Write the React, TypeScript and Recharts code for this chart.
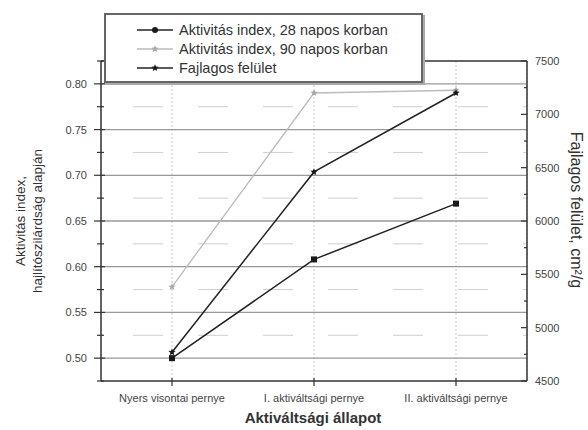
import React from 'react';
import { LineChart, Line, XAxis, YAxis, CartesianGrid, ReferenceLine } from 'recharts';

const categories = ['Nyers visontai pernye', 'I. aktiváltsági pernye', 'II. aktiváltsági pernye'];
const seriesNames = ['Aktivitás index, 28 napos korban', 'Aktivitás index, 90 napos korban', 'Fajlagos felület'];
const activity28 = [0.5, 0.608, 0.669];
const activity90 = [0.578, 0.79, 0.793];
const specificSurface = [4770, 6460, 7200];
const leftMajorTicks = [0.5, 0.55, 0.6, 0.65, 0.7, 0.75, 0.8];
const leftMinorTicks = [0.475, 0.525, 0.575, 0.625, 0.675, 0.725, 0.775, 0.825];
const rightMajorTicks = [4500, 5000, 5500, 6000, 6500, 7000, 7500];
const rightMinorTicks = [4750, 5250, 5750, 6250, 6750, 7250];
const leftTitle = ['Aktivitás index,', 'hajlítószilárdság alapján'];
const rightTitle = 'Fajlagos felület, cm²/g';
const xTitle = 'Aktiváltsági állapot';

const data = categories.map((c, i) => ({
  cat: c,
  a28: activity28[i],
  a90: activity90[i],
  surf: specificSurface[i],
}));

const FONT = '"Liberation Sans", Arial, sans-serif';
const AXIS = '#333';
const TXT = '#444';

const starPath = (cx: number, cy: number, r: number) => {
  const pts: string[] = [];
  for (let i = 0; i < 10; i++) {
    const rr = i % 2 === 0 ? r : r * 0.45;
    const a = -Math.PI / 2 + (i * Math.PI) / 5;
    pts.push(`${(cx + rr * Math.cos(a)).toFixed(2)},${(cy + rr * Math.sin(a)).toFixed(2)}`);
  }
  return 'M' + pts.join('L') + 'Z';
};

const SquareDot = (p: any) => {
  if (p.cx == null || p.cy == null) return null;
  return <rect key={p.index} x={p.cx - 3} y={p.cy - 3} width={6} height={6} fill="#1a1a1a" />;
};
const GrayStar = (p: any) => {
  if (p.cx == null || p.cy == null) return null;
  return <path key={p.index} d={starPath(p.cx, p.cy, 3.8)} fill="#aaa" />;
};
const BlackStar = (p: any) => {
  if (p.cx == null || p.cy == null) return null;
  return <path key={p.index} d={starPath(p.cx, p.cy, 3.8)} fill="#1a1a1a" />;
};

const LeftTick = (p: any) => {
  const v = p.payload.value;
  const major = leftMajorTicks.some((t) => Math.abs(t - v) < 1e-6);
  return (
    <g>
      <line x1={p.x - (major ? 7 : 4)} x2={p.x + (major ? 4 : 3)} y1={p.y} y2={p.y} stroke={AXIS} strokeWidth={1.2} />
      {major && (
        <text x={p.x - 14} y={p.y + 4} textAnchor="end" fontSize={11} fill={TXT} fontFamily={FONT}>
          {v.toFixed(2)}
        </text>
      )}
    </g>
  );
};

const RightTick = (p: any) => {
  const v = p.payload.value;
  const major = rightMajorTicks.includes(v);
  return (
    <g>
      <line x1={p.x - (major ? 6 : 3)} x2={p.x} y1={p.y} y2={p.y} stroke={AXIS} strokeWidth={1.2} />
      {major && (
        <text x={p.x + 8} y={p.y + 4} textAnchor="start" fontSize={11} fill={TXT} fontFamily={FONT}>
          {v}
        </text>
      )}
    </g>
  );
};

const BottomTick = (p: any) => (
  <g>
    <line x1={p.x} x2={p.x} y1={p.y - 3} y2={p.y + 5} stroke={AXIS} strokeWidth={1.2} />
    <text x={p.x} y={p.y + 21} textAnchor="middle" fontSize={11} fill={TXT} fontFamily={FONT}>
      {p.payload.value}
    </text>
  </g>
);

const LegendIcon = ({ kind }: { kind: number }) => (
  <svg width={36} height={12} style={{ display: 'block' }}>
    <line x1={0} x2={36} y1={6} y2={6} stroke={kind === 1 ? '#bbb' : '#222'} strokeWidth={1.3} />
    {kind === 0 && <circle cx={18} cy={6} r={3} fill="#1a1a1a" />}
    {kind === 1 && <path d={starPath(18, 6, 3.8)} fill="#aaa" />}
    {kind === 2 && <path d={starPath(18, 6, 3.8)} fill="#1a1a1a" />}
  </svg>
);

export default function App() {
  return (
    <div style={{ position: 'absolute', left: 0, top: 0, width: 588, height: 430, background: '#fff' }}>
      <LineChart width={588} height={430} data={data} margin={{ top: 61, right: 0, bottom: 0, left: 0 }}>
        <CartesianGrid horizontal={false} vertical stroke="#c8c8c8" strokeDasharray="2 2" />
        {leftMinorTicks.slice(1, -1).map((t) => (
          <ReferenceLine key={'m' + t} yAxisId="left" y={t} stroke="#cfcfcf" strokeWidth={1} strokeDasharray="0 32 30 3" />
        ))}
        {leftMajorTicks.map((t) => (
          <ReferenceLine key={'M' + t} yAxisId="left" y={t} stroke="#999" strokeWidth={1.3} />
        ))}
        <ReferenceLine yAxisId="left" y={0.825} stroke={AXIS} strokeWidth={1.5} />
        <XAxis
          dataKey="cat"
          height={49}
          padding={{ left: 71, right: 71 }}
          interval={0}
          tickSize={0}
          tickMargin={0}
          tickLine={false}
          tick={<BottomTick />}
          axisLine={{ stroke: AXIS, strokeWidth: 1.5 }}
        />
        <YAxis
          yAxisId="left"
          orientation="left"
          width={101}
          domain={[0.475, 0.825]}
          ticks={[...leftMinorTicks, ...leftMajorTicks].sort((a, b) => a - b)}
          interval={0}
          tickSize={0}
          tickMargin={0}
          tickLine={false}
          tick={<LeftTick />}
          axisLine={{ stroke: AXIS, strokeWidth: 1.5 }}
        />
        <YAxis
          yAxisId="right"
          orientation="right"
          width={61}
          domain={[4500, 7500]}
          ticks={[...rightMinorTicks, ...rightMajorTicks].sort((a, b) => a - b)}
          interval={0}
          tickSize={0}
          tickMargin={0}
          tickLine={false}
          tick={<RightTick />}
          axisLine={{ stroke: AXIS, strokeWidth: 1.5 }}
        />
        <Line yAxisId="left" dataKey="a90" name={seriesNames[1]} stroke="#bbb" strokeWidth={1.3} dot={<GrayStar />} isAnimationActive={false} />
        <Line yAxisId="left" dataKey="a28" name={seriesNames[0]} stroke="#222" strokeWidth={1.5} dot={<SquareDot />} isAnimationActive={false} />
        <Line yAxisId="right" dataKey="surf" name={seriesNames[2]} stroke="#222" strokeWidth={1.5} dot={<BlackStar />} isAnimationActive={false} />
        <text x={313} y={423} textAnchor="middle" fontSize={15} fontWeight="bold" fill="#333" fontFamily={FONT}>
          {xTitle}
        </text>
        <text transform="translate(25,221) rotate(-90)" textAnchor="middle" fontSize={13.5} fill="#333" fontFamily={FONT}>
          {leftTitle[0]}
        </text>
        <text transform="translate(42,221) rotate(-90)" textAnchor="middle" fontSize={13.5} fill="#333" fontFamily={FONT}>
          {leftTitle[1]}
        </text>
        <text transform="translate(571,210) rotate(90)" textAnchor="middle" fontSize={16} fill="#333" fontFamily={FONT}>
          {rightTitle}
        </text>
      </LineChart>
      <div
        style={{
          position: 'absolute',
          left: 104,
          top: 13,
          width: 315,
          height: 66,
          border: '2px solid #666',
          boxShadow: '2px 2px 0 #aaa',
          background: '#fff',
          fontFamily: FONT,
          fontSize: 14.5,
          color: '#333',
          boxSizing: 'content-box',
        }}
      >
        {seriesNames.map((n, i) => (
          <div key={n} style={{ position: 'absolute', left: 31, top: 6 + i * 19, display: 'flex', alignItems: 'center', height: 18 }}>
            <LegendIcon kind={i} />
            <span style={{ marginLeft: 6, whiteSpace: 'nowrap' }}>{n}</span>
          </div>
        ))}
      </div>
    </div>
  );
}
